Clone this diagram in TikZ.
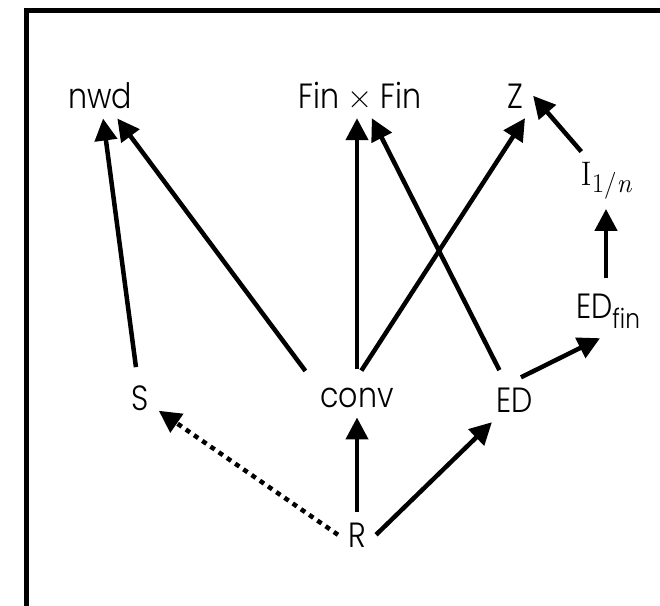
\documentclass[tikz,border=0pt]{standalone}
\usepackage[no-math]{fontspec}
\setmainfont{Poppins Light}[FakeStretch=0.86]
\newfontfamily\lmr{Latin Modern Roman}
\usetikzlibrary{arrows.meta}
\newcommand{\subidx}[2]{\raisebox{-#1pt}{\fontsize{27}{27}\selectfont #2}}
\begin{document}
\begin{tikzpicture}[x=1pt,y=-1pt,
  lbl/.style={inner sep=10pt, anchor=base, font=\fontsize{35}{40}\selectfont},
  arr/.style={line width=4.5pt, -{Triangle[length=22pt,width=22pt]}},
  farr/.style={arr, shorten <=8pt},
  dotarr/.style={arr, dash pattern=on 5pt off 5pt}]
\useasboundingbox (0,0) rectangle (660,605);
\clip (0,0) rectangle (660,605);
\draw[line width=5pt] (26,640) -- (26,10) -- (700,10);
% nodes
\node[lbl] (nwd)  at (100,108) {nwd};
\node[lbl] (fin)  at (360,108) {Fin {\lmr ×} Fin};
\node[lbl] (Z)    at (515,108) {Z};
\node[lbl] (I)    at (606,185) {{\lmr\fontsize{34}{40}\selectfont I}\subidx{7}{\lmr 1/\itshape n}};
\node[lbl] (EDf)  at (608,318) {ED\subidx{10}{fin}};
\node[lbl] (S)    at (140,410) {S};
\node[lbl] (conv) at (357,407) {conv};
\node[lbl] (ED)   at (515,412) {ED};
\node[lbl] (R)    at (357,547) {R};
% connectors
\draw[farr] (S) -- (nwd);
\draw[farr] (conv.north west) -- (nwd);
\draw[farr] (conv.north) -- (conv.north |- fin.south);
\draw[farr] (conv.north) -- ([xshift=10pt]Z.south);
\draw[farr] ([xshift=-12pt]ED.north) -- (fin);
\draw[arr] ([xshift=6pt]ED.north) -- ([xshift=-8pt]EDf.south);
\draw[arr, shorten <=5pt] (I.south |- EDf.north) -- (I.south);
\draw[arr] (I) -- (Z.east);
\draw[arr] (R.north) -- (R.north |- conv.south);
\draw[arr] (R.east) -- (ED);
\draw[dotarr] (R.west) -- (S);
\end{tikzpicture}
\end{document}
